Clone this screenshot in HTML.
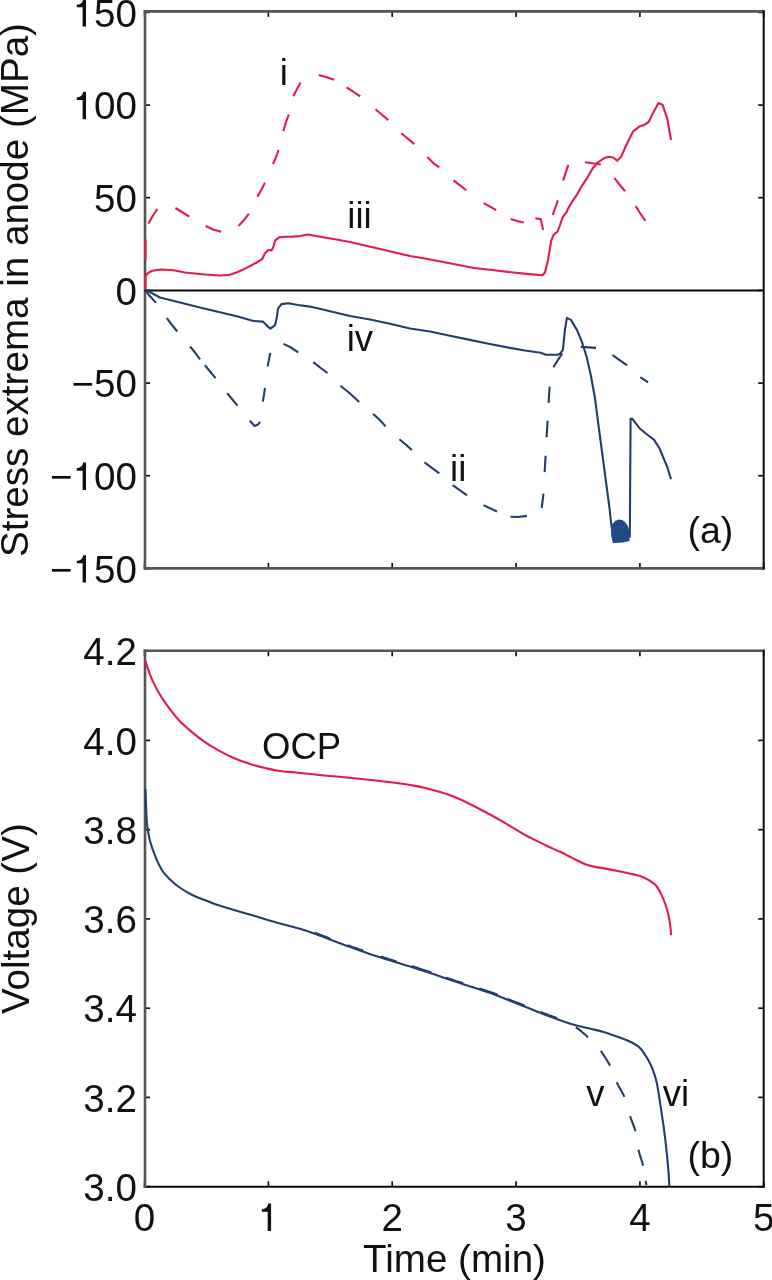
<!DOCTYPE html>
<html><head><meta charset="utf-8"><style>
html,body{margin:0;padding:0;background:#fff;overflow:hidden;}
svg{display:block;}
#w{width:772px;height:1280px;will-change:transform;}
text{font-family:"Liberation Sans",sans-serif;font-size:38.6px;fill:#111;}
.s{font-size:36.6px;}
.p{font-size:37.5px;}
</style></head><body>
<div id="w"><svg width="772" height="1280" viewBox="0 0 772 1280">
<rect width="772" height="1280" fill="#fff"/>
<g>

<line x1="144.6" y1="568.4" x2="150.1" y2="568.4" stroke="#111" stroke-width="1.7"/>
<line x1="763.7" y1="568.4" x2="758.2" y2="568.4" stroke="#111" stroke-width="1.7"/>
<line x1="144.6" y1="475.7" x2="150.1" y2="475.7" stroke="#111" stroke-width="1.7"/>
<line x1="763.7" y1="475.7" x2="758.2" y2="475.7" stroke="#111" stroke-width="1.7"/>
<line x1="144.6" y1="383.1" x2="150.1" y2="383.1" stroke="#111" stroke-width="1.7"/>
<line x1="763.7" y1="383.1" x2="758.2" y2="383.1" stroke="#111" stroke-width="1.7"/>
<line x1="144.6" y1="290.4" x2="150.1" y2="290.4" stroke="#111" stroke-width="1.7"/>
<line x1="763.7" y1="290.4" x2="758.2" y2="290.4" stroke="#111" stroke-width="1.7"/>
<line x1="144.6" y1="197.7" x2="150.1" y2="197.7" stroke="#111" stroke-width="1.7"/>
<line x1="763.7" y1="197.7" x2="758.2" y2="197.7" stroke="#111" stroke-width="1.7"/>
<line x1="144.6" y1="105.1" x2="150.1" y2="105.1" stroke="#111" stroke-width="1.7"/>
<line x1="763.7" y1="105.1" x2="758.2" y2="105.1" stroke="#111" stroke-width="1.7"/>
<line x1="144.6" y1="12.4" x2="150.1" y2="12.4" stroke="#111" stroke-width="1.7"/>
<line x1="763.7" y1="12.4" x2="758.2" y2="12.4" stroke="#111" stroke-width="1.7"/>
<line x1="144.6" y1="11.4" x2="144.6" y2="16.9" stroke="#111" stroke-width="1.7"/>
<line x1="144.6" y1="568.4" x2="144.6" y2="562.9" stroke="#111" stroke-width="1.7"/>
<line x1="268.4" y1="11.4" x2="268.4" y2="16.9" stroke="#111" stroke-width="1.7"/>
<line x1="268.4" y1="568.4" x2="268.4" y2="562.9" stroke="#111" stroke-width="1.7"/>
<line x1="392.2" y1="11.4" x2="392.2" y2="16.9" stroke="#111" stroke-width="1.7"/>
<line x1="392.2" y1="568.4" x2="392.2" y2="562.9" stroke="#111" stroke-width="1.7"/>
<line x1="516.1" y1="11.4" x2="516.1" y2="16.9" stroke="#111" stroke-width="1.7"/>
<line x1="516.1" y1="568.4" x2="516.1" y2="562.9" stroke="#111" stroke-width="1.7"/>
<line x1="639.9" y1="11.4" x2="639.9" y2="16.9" stroke="#111" stroke-width="1.7"/>
<line x1="639.9" y1="568.4" x2="639.9" y2="562.9" stroke="#111" stroke-width="1.7"/>
<line x1="763.7" y1="11.4" x2="763.7" y2="16.9" stroke="#111" stroke-width="1.7"/>
<line x1="763.7" y1="568.4" x2="763.7" y2="562.9" stroke="#111" stroke-width="1.7"/>
<line x1="143.7" y1="11.40" x2="764.7" y2="11.40" stroke="#555555" stroke-width="2.6"/>
<line x1="143.7" y1="568.40" x2="764.7" y2="568.40" stroke="#555555" stroke-width="2.6"/>
<line x1="145.00" y1="10.1" x2="145.00" y2="569.6999999999999" stroke="#555555" stroke-width="2.6"/>
<line x1="763.70" y1="10.4" x2="763.70" y2="569.4" stroke="#0a0a0a" stroke-width="2"/>
<text x="50.06" y="582.60">−</text>
<path d="M86.00,582.60 L82.60,582.60 L82.60,563.30 L76.80,563.30 L76.80,560.70 C80.20,560.60 82.40,559.39 83.20,555.20 L86.00,555.20 Z" fill="#111"/>
<text x="94.06" y="582.60">50</text>
<text x="50.06" y="489.93">−</text>
<path d="M86.00,489.93 L82.60,489.93 L82.60,470.63 L76.80,470.63 L76.80,468.03 C80.20,467.93 82.40,466.73 83.20,462.53 L86.00,462.53 Z" fill="#111"/>
<text x="94.06" y="489.93">00</text>
<text x="71.52" y="397.26">−50</text>
<text x="115.53" y="304.60">0</text>
<text x="94.06" y="211.93">50</text>
<path d="M86.00,119.27 L82.60,119.27 L82.60,99.97 L76.80,99.97 L76.80,97.37 C80.20,97.27 82.40,96.07 83.20,91.87 L86.00,91.87 Z" fill="#111"/>
<text x="94.06" y="119.27">00</text>
<path d="M86.00,26.60 L82.60,26.60 L82.60,7.30 L76.80,7.30 L76.80,4.70 C80.20,4.60 82.40,3.40 83.20,-0.80 L86.00,-0.80 Z" fill="#111"/>
<text x="94.06" y="26.60">50</text>
<line x1="144.6" y1="290.50" x2="763.7" y2="290.50" stroke="#0a0a0a" stroke-width="2"/>
<line x1="144.6" y1="1186.7" x2="150.1" y2="1186.7" stroke="#111" stroke-width="1.7"/>
<line x1="763.7" y1="1186.7" x2="758.2" y2="1186.7" stroke="#111" stroke-width="1.7"/>
<line x1="144.6" y1="1097.4" x2="150.1" y2="1097.4" stroke="#111" stroke-width="1.7"/>
<line x1="763.7" y1="1097.4" x2="758.2" y2="1097.4" stroke="#111" stroke-width="1.7"/>
<line x1="144.6" y1="1008.2" x2="150.1" y2="1008.2" stroke="#111" stroke-width="1.7"/>
<line x1="763.7" y1="1008.2" x2="758.2" y2="1008.2" stroke="#111" stroke-width="1.7"/>
<line x1="144.6" y1="918.9" x2="150.1" y2="918.9" stroke="#111" stroke-width="1.7"/>
<line x1="763.7" y1="918.9" x2="758.2" y2="918.9" stroke="#111" stroke-width="1.7"/>
<line x1="144.6" y1="829.7" x2="150.1" y2="829.7" stroke="#111" stroke-width="1.7"/>
<line x1="763.7" y1="829.7" x2="758.2" y2="829.7" stroke="#111" stroke-width="1.7"/>
<line x1="144.6" y1="740.4" x2="150.1" y2="740.4" stroke="#111" stroke-width="1.7"/>
<line x1="763.7" y1="740.4" x2="758.2" y2="740.4" stroke="#111" stroke-width="1.7"/>
<line x1="144.6" y1="651.1" x2="150.1" y2="651.1" stroke="#111" stroke-width="1.7"/>
<line x1="763.7" y1="651.1" x2="758.2" y2="651.1" stroke="#111" stroke-width="1.7"/>
<line x1="144.6" y1="650.8" x2="144.6" y2="656.3" stroke="#111" stroke-width="1.7"/>
<line x1="144.6" y1="1186.8" x2="144.6" y2="1181.3" stroke="#111" stroke-width="1.7"/>
<line x1="268.4" y1="650.8" x2="268.4" y2="656.3" stroke="#111" stroke-width="1.7"/>
<line x1="268.4" y1="1186.8" x2="268.4" y2="1181.3" stroke="#111" stroke-width="1.7"/>
<line x1="392.2" y1="650.8" x2="392.2" y2="656.3" stroke="#111" stroke-width="1.7"/>
<line x1="392.2" y1="1186.8" x2="392.2" y2="1181.3" stroke="#111" stroke-width="1.7"/>
<line x1="516.1" y1="650.8" x2="516.1" y2="656.3" stroke="#111" stroke-width="1.7"/>
<line x1="516.1" y1="1186.8" x2="516.1" y2="1181.3" stroke="#111" stroke-width="1.7"/>
<line x1="639.9" y1="650.8" x2="639.9" y2="656.3" stroke="#111" stroke-width="1.7"/>
<line x1="639.9" y1="1186.8" x2="639.9" y2="1181.3" stroke="#111" stroke-width="1.7"/>
<line x1="763.7" y1="650.8" x2="763.7" y2="656.3" stroke="#111" stroke-width="1.7"/>
<line x1="763.7" y1="1186.8" x2="763.7" y2="1181.3" stroke="#111" stroke-width="1.7"/>
<line x1="143.7" y1="650.80" x2="764.7" y2="650.80" stroke="#555555" stroke-width="2.6"/>
<line x1="143.7" y1="1186.80" x2="764.7" y2="1186.80" stroke="#0a0a0a" stroke-width="2"/>
<line x1="145.00" y1="649.5" x2="145.00" y2="1188.1" stroke="#555555" stroke-width="2.6"/>
<line x1="763.70" y1="649.8" x2="763.70" y2="1187.8" stroke="#0a0a0a" stroke-width="2"/>
<text x="83.34" y="1200.85">3.0</text>
<text x="83.34" y="1111.60">3.2</text>
<text x="83.34" y="1022.35">3.4</text>
<text x="83.34" y="933.10">3.6</text>
<text x="83.34" y="843.85">3.8</text>
<text x="83.34" y="754.60">4.0</text>
<text x="83.34" y="665.35">4.2</text>
<text x="133.87" y="1231.00">0</text>
<path d="M271.09,1231.00 L267.69,1231.00 L267.69,1211.70 L261.89,1211.70 L261.89,1209.10 C265.29,1209.00 267.49,1207.80 268.29,1203.60 L271.09,1203.60 Z" fill="#111"/>
<text x="381.51" y="1231.00">2</text>
<text x="505.33" y="1231.00">3</text>
<text x="629.15" y="1231.00">4</text>
<text x="752.97" y="1231.00">5</text>
<text x="454.5" y="1271.8" text-anchor="middle">Time (min)</text>
<text transform="translate(27.5,290) rotate(-90)" text-anchor="middle">Stress extrema in anode (MPa)</text>
<text transform="translate(29.3,918.7) rotate(-90)" text-anchor="middle">Voltage (V)</text>
<path d="M145.5,259.6 L145.5,238.9 M148.4,223.7 L152.0,217.0 L157.3,209.2 M175.4,208.0 L182.0,212.0 L189.3,216.6 M205.7,226.0 L213.0,229.5 L221.2,231.8 M238.5,225.9 L244.0,220.0 L248.9,213.7 M257.5,196.8 L262.0,188.5 L265.0,182.7 M273.0,164.2 L276.0,157.0 L278.6,150.0 M283.3,131.1 L286.0,122.0 L288.8,114.6 M293.4,96.2 L297.0,89.0 L300.6,82.6 M318.7,75.1 L326.0,77.0 L334.1,79.7 M346.5,87.3 L353.0,91.5 L360.2,96.4 M375.5,109.2 L382.0,114.8 L388.2,120.1 M401.4,133.2 L408.0,138.8 L414.2,144.1 M427.4,157.1 L434.0,163.7 L439.3,167.3 M453.6,180.3 L460.0,185.3 L466.3,190.3 M483.6,203.1 L490.0,206.7 L496.2,210.2 M510.6,218.9 L517.0,221.0 L523.8,222.5 M535.4,218.4 L540.7,219.0 L543.1,229.9 M552.7,215.0 L557.9,200.4 M563.1,180.7 L568.3,164.8 M584.9,162.3 L594.0,163.5 L600.8,164.5 M614.4,178.2 L619.0,184.0 L625.1,191.2 M635.7,206.1 L640.0,213.0 L645.3,220.9" fill="none" stroke="#e41b4a" stroke-width="2.1" stroke-linejoin="round" stroke-linecap="butt"/>
<path d="M145.5,290.0 L145.5,276.0 L148.0,273.0 L152.2,270.8 L160.8,269.5 L173.7,270.3 L185.0,272.5 L195.0,273.5 L205.0,274.5 L220.0,275.5 L230.0,274.8 L239.0,271.5 L248.0,267.1 L257.2,262.2 L262.2,259.0 L264.5,254.0 L268.1,250.0 L271.7,250.4 L273.5,246.3 L275.3,240.4 L279.4,237.2 L286.0,236.8 L293.0,236.6 L300.0,236.0 L308.0,234.5 L320.0,236.7 L335.0,239.3 L350.0,242.0 L365.0,245.5 L380.0,249.0 L395.0,252.5 L410.0,256.0 L425.0,258.5 L438.0,261.0 L456.0,264.5 L474.0,268.0 L492.0,270.0 L511.0,272.3 L529.0,274.1 L542.4,275.2 L545.0,272.6 L548.0,260.0 L551.1,241.0 L553.7,234.6 L557.6,231.5 L560.2,224.5 L562.8,216.8 L566.6,212.0 L568.0,208.7 L571.8,202.2 L577.0,194.6 L582.2,185.3 L587.4,177.6 L592.6,168.5 L597.7,162.5 L604.2,158.1 L609.4,156.8 L613.3,157.5 L617.2,160.7 L621.1,156.8 L625.0,147.8 L629.5,138.5 L633.1,131.3 L639.3,126.6 L643.9,125.1 L648.6,122.0 L653.3,112.6 L658.5,103.0 L662.6,104.9 L667.3,118.9 L671.0,140.0" fill="none" stroke="#e41b4a" stroke-width="2.1" stroke-linejoin="round" stroke-linecap="butt"/>
<path d="M146.9,291.7 L148.0,294.0 L156.0,302.9 M166.8,318.2 L172.0,325.0 L177.3,331.5 M190.0,346.3 L195.0,352.5 L200.0,359.4 M204.9,365.1 L210.0,371.5 L215.6,378.1 M227.1,393.1 L232.0,399.0 L237.4,405.6 M249.8,420.6 L254.6,426.0 L258.0,424.5 L260.0,421.8 M262.9,401.6 L265.0,388.0 M267.6,366.5 L270.3,352.9 M283.4,343.9 L290.0,347.0 L298.3,352.3 M313.2,362.2 L320.0,367.5 L327.5,373.0 M340.4,385.8 L350.0,393.5 L359.2,402.0 M373.1,413.9 L379.8,420.0 L385.6,426.4 M399.4,439.3 L405.7,444.5 L411.8,450.1 M424.5,462.4 L431.9,467.9 L439.3,473.4 M452.6,485.2 L460.0,490.3 L467.1,495.3 M483.5,505.1 L490.0,508.3 L497.0,511.5 M510.5,516.8 L518.0,517.0 L526.9,515.9 M541.7,508.0 L543.5,493.6 M544.6,472.1 L545.6,455.7 M546.6,437.2 L547.6,420.8 M548.6,402.9 L549.6,386.6 M553.5,367.4 L553.7,366.8 L558.0,359.8 L562.3,353.5 M580.7,346.9 L596.1,347.9 M612.5,355.2 L620.0,360.3 L627.1,365.3 M640.4,377.2 L648.0,382.4" fill="none" stroke="#233f69" stroke-width="2.1" stroke-linejoin="round" stroke-linecap="butt"/>
<path d="M146.0,290.0 L160.0,297.5 L180.0,302.5 L199.8,307.5 L220.0,312.3 L239.7,316.9 L253.4,321.0 L262.8,321.6 L266.3,325.1 L270.4,328.7 L275.1,325.1 L276.9,316.9 L278.0,308.7 L281.5,304.1 L288.6,303.2 L297.9,305.0 L310.0,306.6 L330.0,311.3 L350.0,316.0 L370.0,319.5 L390.0,323.8 L410.0,328.5 L430.0,331.5 L449.9,335.7 L469.9,339.9 L489.9,344.0 L509.8,347.9 L525.0,350.5 L540.7,352.8 L546.0,354.8 L557.7,354.8 L560.0,353.8 L562.9,349.8 L564.9,329.9 L566.9,317.9 L570.9,319.9 L576.9,329.9 L581.9,341.9 L586.9,357.8 L590.9,375.8 L594.9,397.7 L597.2,415.5 L600.3,438.9 L603.4,462.2 L606.5,485.5 L609.6,508.8 L611.2,524.4 L613.0,535.0 L616.0,540.0 L620.0,538.0 L625.0,537.0 L629.8,536.8 L630.6,418.7 L632.2,418.7 L640.0,428.8 L647.7,435.0 L653.9,439.6 L659.4,448.2 L663.3,457.5 L667.2,466.8 L671.0,479.3" fill="none" stroke="#233f69" stroke-width="2.1" stroke-linejoin="round" stroke-linecap="butt"/>
<path d="M611,528 Q612,521 619,519.5 Q627,520 629,530 L629.6,541 Q622,543.5 613,543 Q610.5,536 611,528 Z" fill="#1f4a86"/>
<path d="M145.4,660.5 C146.0,662.5 147.6,668.1 149.1,672.2 C150.6,676.3 152.4,680.7 154.5,684.9 C156.6,689.1 159.1,693.4 161.8,697.6 C164.5,701.8 167.8,706.4 170.8,710.3 C173.8,714.2 176.6,717.7 179.9,721.2 C183.2,724.7 186.9,727.8 190.8,731.1 C194.7,734.4 199.0,737.9 203.5,741.1 C208.0,744.3 212.9,747.3 218.0,750.2 C223.1,753.1 228.6,755.9 234.3,758.3 C240.0,760.7 247.0,763.0 252.4,764.7 C257.9,766.4 262.4,767.5 267.0,768.5 C271.6,769.5 275.2,770.3 280.0,771.0 C284.8,771.7 288.9,771.8 295.9,772.5 C302.9,773.2 313.2,774.4 321.8,775.2 C330.4,776.1 339.1,776.8 347.7,777.6 C356.3,778.4 365.0,779.2 373.6,780.2 C382.2,781.2 393.0,782.5 399.5,783.4 C406.0,784.3 408.2,784.6 412.5,785.4 C416.8,786.1 421.1,786.9 425.4,787.9 C429.7,788.9 434.1,790.2 438.4,791.5 C442.7,792.8 447.3,794.2 451.3,795.7 C455.3,797.2 456.9,797.8 462.2,800.3 C467.5,802.8 476.0,807.1 482.9,810.8 C489.8,814.4 496.7,818.2 503.6,822.2 C510.5,826.2 517.5,830.8 524.4,834.6 C531.3,838.4 539.2,842.1 545.1,845.0 C551.0,847.9 556.1,850.0 560.0,851.8 C563.9,853.6 565.6,854.6 568.4,856.0 C571.2,857.4 574.0,858.8 576.8,860.2 C579.6,861.6 582.5,863.1 585.3,864.2 C588.1,865.3 590.3,865.9 593.7,866.6 C597.1,867.3 601.3,867.8 605.5,868.6 C609.7,869.4 614.7,870.4 618.9,871.2 C623.1,872.1 627.1,872.9 630.7,873.7 C634.4,874.5 637.7,875.1 640.8,876.2 C643.9,877.3 646.8,878.9 649.3,880.4 C651.8,881.9 654.0,883.2 656.0,885.5 C658.0,887.8 659.5,890.8 661.0,893.9 C662.5,897.0 664.0,900.4 665.3,904.0 C666.6,907.6 667.8,912.1 668.6,915.8 C669.4,919.4 669.9,922.7 670.3,925.9 C670.7,929.1 671.0,933.6 671.1,935.1" fill="none" stroke="#e41b4a" stroke-width="2.1" stroke-linejoin="round" stroke-linecap="butt"/>
<path d="M145.4,789.0 C145.5,790.8 145.7,796.2 145.8,800.0 C146.0,803.8 146.1,808.3 146.3,812.0 C146.5,815.7 146.6,819.0 146.8,822.0 C147.1,825.0 147.2,826.7 147.8,830.0 C148.4,833.3 149.0,837.4 150.3,842.0 C151.6,846.6 153.9,853.0 155.8,857.7 C157.8,862.4 159.7,866.6 162.0,870.2 C164.3,873.8 167.0,876.4 169.8,879.2 C172.6,882.0 175.2,884.4 178.9,887.0 C182.6,889.6 187.5,892.6 191.8,894.8 C196.1,897.0 200.5,898.3 204.8,900.0 C209.1,901.7 213.4,903.6 217.7,905.1 C222.0,906.6 225.5,907.5 230.7,909.0 C235.9,910.5 242.8,912.5 248.8,914.3 C254.9,916.1 261.8,918.2 267.0,919.7 C272.2,921.2 274.5,922.0 280.0,923.5 C285.5,925.0 293.6,926.8 300.0,928.7 C306.4,930.6 312.0,932.7 318.3,935.0 C324.6,937.3 331.2,940.1 337.7,942.5 C344.2,944.9 350.7,947.2 357.2,949.5 C363.7,951.8 370.1,954.1 376.6,956.2 C383.1,958.3 389.5,960.2 396.0,962.2 C402.5,964.2 409.0,966.1 415.5,968.2 C422.0,970.3 428.4,972.4 434.9,974.6 C441.4,976.8 447.8,979.1 454.3,981.3 C460.8,983.5 467.3,985.5 473.8,987.6 C480.3,989.7 486.7,991.6 493.2,994.0 C499.7,996.4 506.1,999.2 512.6,1001.8 C519.1,1004.4 525.9,1007.0 532.1,1009.5 C538.3,1012.0 544.8,1014.5 550.0,1016.5 C555.2,1018.5 559.2,1019.9 563.6,1021.4 C568.0,1022.9 572.3,1024.3 576.6,1025.5 C580.9,1026.7 585.0,1027.4 589.5,1028.5 C594.0,1029.6 598.5,1030.4 603.7,1031.9 C608.9,1033.5 615.7,1036.0 620.5,1037.8 C625.3,1039.6 628.9,1041.0 632.3,1042.8 C635.7,1044.6 638.2,1046.0 640.7,1048.7 C643.2,1051.4 645.5,1055.4 647.5,1058.8 C649.5,1062.2 651.0,1065.0 652.5,1068.9 C654.0,1072.8 655.6,1077.6 656.7,1082.4 C657.8,1087.2 658.4,1092.3 659.3,1097.6 C660.1,1102.9 661.0,1108.8 661.8,1114.4 C662.6,1120.0 663.5,1124.8 664.3,1131.3 C665.1,1137.8 666.1,1146.4 666.8,1153.1 C667.5,1159.8 668.1,1166.2 668.5,1171.7 C668.9,1177.2 669.2,1183.6 669.4,1186.0" fill="none" stroke="#233f69" stroke-width="2.1" stroke-linejoin="round" stroke-linecap="butt"/>
<path d="M314.8,932.8 L316.0,933.2 L318.3,934.1 L320.7,935.0 L323.1,935.9 L325.5,936.8 L327.9,937.8 L330.2,938.7 M347.8,945.3 L349.9,946.0 L352.3,946.9 L354.8,947.7 L357.2,948.6 L359.6,949.5 L362.1,950.3 L363.2,950.7 M380.8,956.6 L381.4,956.8 L383.9,957.6 L386.3,958.3 L388.7,959.1 L391.1,959.8 L393.6,960.6 L396.0,961.3 L396.2,961.4 M411.8,966.1 L413.1,966.5 L415.5,967.3 L417.9,968.1 L420.4,968.9 L422.8,969.7 L425.2,970.5 L427.6,971.3 L430.1,972.1 L431.2,972.5 M445.8,977.5 L447.0,977.9 L449.4,978.7 L451.9,979.6 L454.3,980.4 L456.7,981.2 L459.2,982.0 L461.6,982.8 L463.2,983.3 M479.3,988.5 L481.1,989.0 L483.5,989.8 L485.9,990.6 L488.4,991.4 L490.8,992.2 L493.2,993.1 L495.6,994.0 L497.7,994.8 M507.8,998.9 L510.2,999.9 L512.6,1000.9 L515.0,1001.9 L517.5,1002.8 L520.0,1003.8 L522.4,1004.8 L524.7,1005.7 M540.8,1012.0 L541.4,1012.3 L543.7,1013.2 L545.9,1014.0 L548.0,1014.8 L550.0,1015.6 L551.9,1016.3 L553.8,1017.0 L555.5,1017.6 L557.2,1018.1 M575.8,1027.3 L576.7,1027.9 L578.4,1029.1 L580.1,1030.4 L581.8,1031.8 L583.5,1033.3 L585.2,1034.8 L586.9,1036.3 L587.9,1037.3 M600.8,1051.0 L601.7,1052.2 L603.0,1054.2 L604.4,1056.2 L605.7,1058.2 L607.0,1060.3 L608.2,1062.4 L609.4,1064.4 L610.0,1065.7 M616.7,1082.3 L617.3,1083.6 L618.3,1085.5 L619.4,1087.5 L620.5,1089.4 L621.7,1091.4 L622.8,1093.5 L623.8,1095.5 L624.4,1096.9 M630.1,1116.1 L630.5,1117.4 L631.3,1119.6 L632.1,1121.7 L632.9,1123.8 L633.7,1125.8 L634.4,1127.9 L635.1,1130.0 L635.5,1131.3 M638.4,1149.7 L638.7,1151.1 L639.3,1153.2 L640.0,1155.4 L640.7,1157.6 L641.4,1159.8 L642.1,1162.0 L642.7,1164.3 L643.1,1165.8 M645.7,1180.8 L646.0,1182.5 L646.3,1184.5 L646.4,1185.2" fill="none" stroke="#233f69" stroke-width="2.1" stroke-linejoin="round" stroke-linecap="butt"/>
<text x="283.8" y="85" text-anchor="middle" class="s">i</text>
<text x="359.5" y="228" text-anchor="middle" class="s">iii</text>
<text x="359.9" y="350.8" text-anchor="middle" class="s">iv</text>
<text x="458.2" y="480.8" text-anchor="middle" class="s">ii</text>
<text x="710.4" y="543" text-anchor="middle" class="p">(a)</text>
<text x="301.6" y="758.5" text-anchor="middle" class="s">OCP</text>
<text x="595.5" y="1106" text-anchor="middle" class="s">v</text>
<text x="676" y="1106" text-anchor="middle" class="s">vi</text>
<text x="710.4" y="1167.6" text-anchor="middle" class="p">(b)</text>
</g></svg></div></body></html>
